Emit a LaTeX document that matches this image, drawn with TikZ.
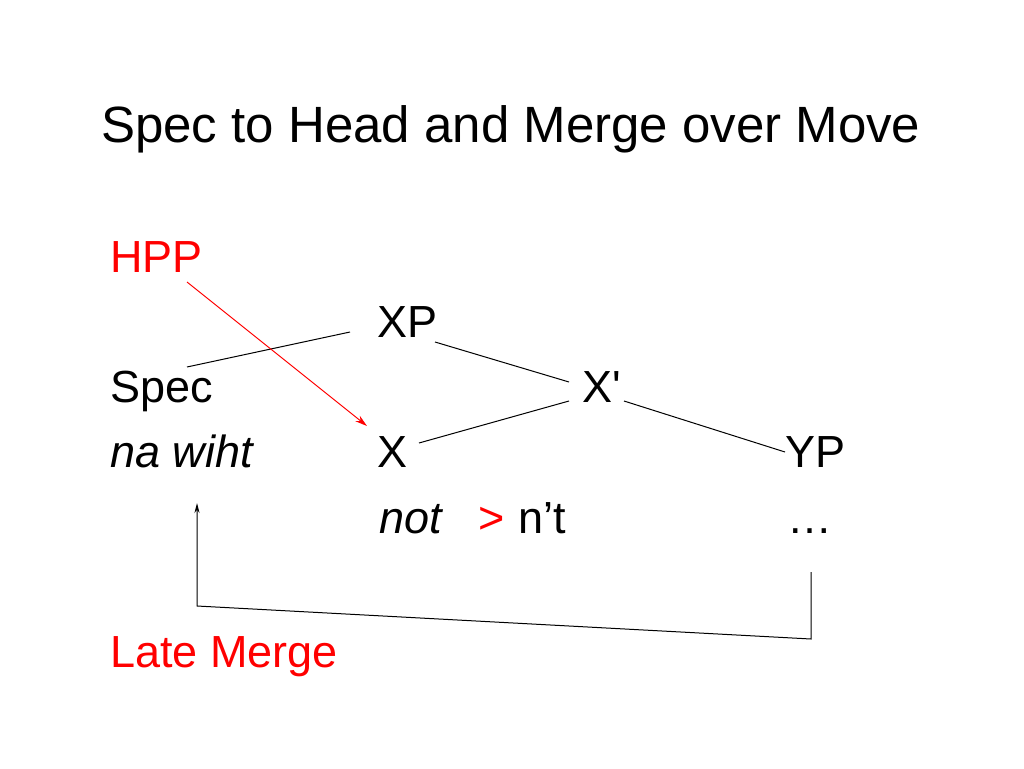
\documentclass[tikz,border=0pt]{standalone}
\usepackage{fontspec}
\setmainfont{Liberation Sans}
\newfontfamily\plainfont{Liberation Sans}
\usetikzlibrary{arrows.meta}
\begin{document}
\begin{tikzpicture}[x=1pt,y=-1pt,
  lbl/.style={inner sep=0pt,anchor=base west,font=\fontsize{45}{50}\selectfont},
  redlbl/.style={lbl,text=red},
  branch/.style={draw=black,line width=1pt},
  hpparrow/.style={draw=red,line width=1pt,-{Stealth[length=12pt,width=7pt]}},
  lmarrow/.style={draw=black,line width=1pt,-{Stealth[length=10pt,width=5pt]}}]
\useasboundingbox[fill=white] (0,0) rectangle (1024,768);
\node[inner sep=0pt,anchor=base west,font=\fontsize{51}{56}\selectfont] (title) at (101,142) {Spec to Head and Merge over Move};
\node[redlbl] (hpp) at (110,272) {HPP};
\node[lbl] (xp) at (377,337) {XP};
\node[lbl] (spec) at (110,402) {Spec};
\node[lbl] (xbar) at (582,402) {\plainfont X'};
\node[lbl] (nawiht) at (110,467) {\itshape na wiht};
\node[lbl] (x) at (377,467) {X};
\node[lbl] (yp) at (785,467) {YP};
\node[lbl] (not) at (379,533) {\itshape not};
\node[redlbl] (gt) at (478,533) {>};
\node[lbl] (nt) at (518,533) {n’t};
\node[lbl] (dots) at (787,533) {…};
\node[redlbl] (late) at (110,667) {Late Merge};
% branch end points
\coordinate (specR) at (187,367);
\coordinate (xpL) at (350,332);
\coordinate (xpR) at (435,342);
\coordinate (xbarUL) at (569,382);
\coordinate (xbarLL) at (569,401);
\coordinate (xR) at (419,443);
\coordinate (xbarR) at (624,401);
\coordinate (ypL) at (785,452);
\coordinate (hppS) at (187,282);
\coordinate (xT) at (367,426);
\coordinate (dotsB) at (811,572);
\coordinate (cornerR) at (811,639);
\coordinate (cornerL) at (197,606);
\coordinate (nawihtB) at (197,503);
\draw[branch] (specR) -- (xpL);
\draw[branch] (xpR) -- (xbarUL);
\draw[branch] (xbarLL) -- (xR);
\draw[branch] (xbarR) -- (ypL);
\draw[hpparrow] (hppS) -- (xT);
\draw[lmarrow] (dotsB) -- (cornerR) -- (cornerL) -- (nawihtB);
\end{tikzpicture}
\end{document}
